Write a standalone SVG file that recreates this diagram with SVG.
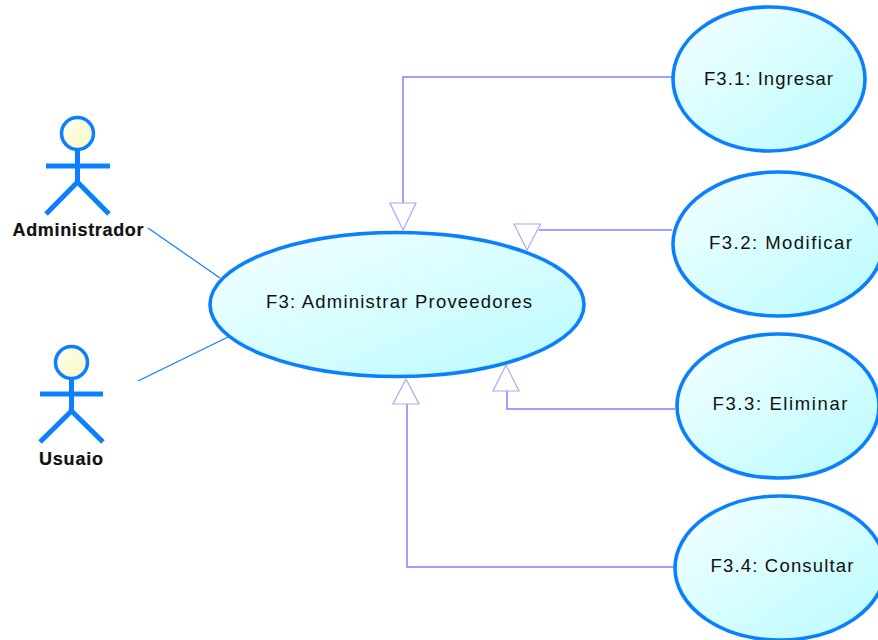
<svg xmlns="http://www.w3.org/2000/svg" width="878" height="640" viewBox="0 0 878 640">
<style>
text{font-family:"Liberation Sans",Arial,sans-serif;fill:#111;font-size:18.500px}
.uc{fill:url(#g);stroke:#0a80ff;stroke-width:3.600}
.conn{fill:none;stroke:#8080ff;stroke-width:1.500}
.head{fill:#fff;stroke:#a8a8ff;stroke-width:1.200}
.assoc{fill:none;stroke:#0a80ff;stroke-width:1.200}
.act{fill:none;stroke:#0a80ff;stroke-width:5}
.hd{fill:url(#h);stroke:#0a80ff;stroke-width:3.500}
.lbl{font-weight:bold;font-size:18px;stroke:#111;stroke-width:.2}
</style>
<defs>
<linearGradient id="g" x1="0" y1="0" x2="1" y2="1"><stop offset="0" stop-color="#f6ffff"/><stop offset="1" stop-color="#b8fbff"/></linearGradient>
<linearGradient id="h" x1="0" y1="0" x2="1" y2="1"><stop offset="0" stop-color="#fffff4"/><stop offset="1" stop-color="#f8f8c0"/></linearGradient>
</defs>
<g id="connectors">
<path class="conn" d="M672 77H403V204"/>
<path class="head" d="M403 230L390 203H416Z"/>
<path class="conn" d="M672 230H539"/>
<path class="head" d="M527 250L514 224H540.500Z"/>
<path class="conn" d="M675 409H507V390"/>
<path class="head" d="M506 365L493 391H519Z"/>
<path class="conn" d="M675 567H407V404"/>
<path class="head" d="M406 379L393 404H419Z"/>
<path class="assoc" d="M148 228L220 278"/>
<path class="assoc" d="M138 381L228 337"/>
</g>
<g id="f3"><ellipse class="uc" cx="397" cy="304.500" rx="187" ry="72"/><text x="399" y="308" text-anchor="middle" textLength="266">F3: Administrar Proveedores</text></g>
<g id="f3-1"><ellipse class="uc" cx="769" cy="79" rx="96" ry="72"/><text x="768.500" y="85" text-anchor="middle" textLength="129">F3.1: Ingresar</text></g>
<g id="f3-2"><ellipse class="uc" cx="778" cy="244" rx="105" ry="72"/><text x="780.500" y="249" text-anchor="middle" textLength="143">F3.2: Modificar</text></g>
<g id="f3-3"><ellipse class="uc" cx="778" cy="406" rx="101" ry="72"/><text x="780" y="410" text-anchor="middle" textLength="135">F3.3: Eliminar</text></g>
<g id="f3-4"><ellipse class="uc" cx="780" cy="568" rx="105" ry="72"/><text x="782" y="572" text-anchor="middle" textLength="143">F3.4: Consultar</text></g>
<g id="actor-administrador">
<circle class="hd" cx="77.500" cy="133.500" r="16"/>
<path class="act" d="M77.500 150V182M46 166H110M46 214L77.500 182L109 214"/>
<text class="lbl" x="78" y="236" text-anchor="middle" textLength="131">Administrador</text>
</g>
<g id="actor-usuaio">
<circle class="hd" cx="71.500" cy="362.500" r="16"/>
<path class="act" d="M71.500 379V411M40 394H103M40 442L71.500 411L103 442"/>
<text class="lbl" x="71" y="465" text-anchor="middle" textLength="64">Usuaio</text>
</g>
</svg>
